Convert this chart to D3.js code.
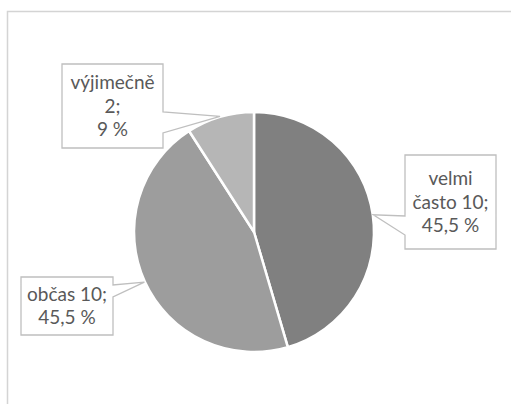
<!DOCTYPE html>
<html><head><meta charset="utf-8">
<script src="https://cdn.jsdelivr.net/npm/d3@7"></script>
<style>html,body{margin:0;padding:0;background:#fff;}svg{display:block;}</style>
</head><body>
<svg id="c" width="511" height="404"></svg>
<script>
const categories = ["velmi často", "občas", "výjimečně"];
const values = [10, 10, 2];
const percents = ["45,5 %", "45,5 %", "9 %"];
const labelLines = [["velmi", "často 10;", "45,5 %"], ["občas 10;", "45,5 %"], ["výjimečně", "2;", "9 %"]];
const colors = ["#808080", "#9d9d9d", "#b6b6b6"];

const svg = d3.select("#c");
// chart frame
svg.append("rect").attr("x", 7.5).attr("y", 11.5).attr("width", 520).attr("height", 420)
  .attr("fill", "none").attr("stroke", "#d4d4d4").attr("stroke-width", 1.5);

const cx = 254, cy = 232, r = 120;
const pie = d3.pie().sort(null).value(d => d)(values);
const arc = d3.arc().innerRadius(0).outerRadius(r);
const g = svg.append("g").attr("transform", `translate(${cx},${cy})`);
g.selectAll("path").data(pie).join("path")
  .attr("d", arc).attr("fill", (d, i) => colors[i])
  .attr("stroke", "#fff").attr("stroke-width", 2.5).attr("stroke-linejoin", "round");

// callout boxes: [x0,y0,x1,y1], side, pointer base y range
const boxes = [
  {b: [405, 155, 496, 249], side: "left", p: [216, 235]},
  {b: [21, 277, 113, 335], side: "right", p: [285, 297]},
  {b: [62, 64, 163, 148], side: "right", p: [112, 133]}
];
const lh = 23.5;
pie.forEach((d, i) => {
  const m = (d.startAngle + d.endAngle) / 2;
  const tx = cx + (r + 0.5) * Math.sin(m), ty = cy - (r + 0.5) * Math.cos(m);
  const B = boxes[i], [x0, y0, x1, y1] = B.b;
  let p;
  if (B.side === "right") {
    p = `M${x0},${y0}H${x1}V${B.p[0]}L${tx},${ty}L${x1},${B.p[1]}V${y1}H${x0}Z`;
  } else {
    p = `M${x0},${y0}H${x1}V${y1}H${x0}V${B.p[1]}L${tx},${ty}L${x0},${B.p[0]}Z`;
  }
  svg.append("path").attr("d", p).attr("fill", "#fff")
    .attr("stroke", "#bfbfbf").attr("stroke-width", 1.3).attr("stroke-linejoin", "miter");
  const lines = labelLines[i];
  const midY = (y0 + y1) / 2;
  const firstBase = midY - (lines.length - 1) * lh / 2 + 6.5;
  const t = svg.append("text").attr("text-anchor", "middle")
    .attr("font-family", "Lato, 'Open Sans', sans-serif").attr("font-size", 19)
    .attr("fill", "#595959");
  lines.forEach((s, k) => {
    t.append("tspan").attr("x", (x0 + x1) / 2).attr("y", firstBase + k * lh).text(s);
  });
});
</script>
</body></html>
